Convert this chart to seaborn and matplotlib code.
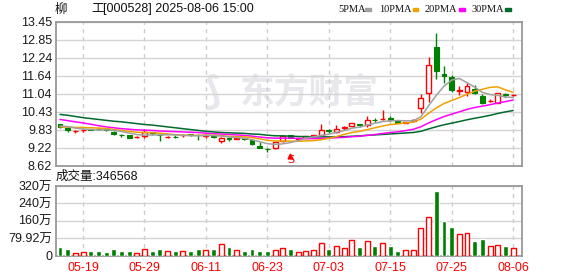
import numpy as np
import pandas as pd
import matplotlib
matplotlib.use("Agg")
import matplotlib.pyplot as plt
import seaborn as sns
from matplotlib.patches import Rectangle

# ---------------- data ----------------
dates = ["05-14", "05-15", "05-16", "05-19", "05-20", "05-21", "05-22", "05-23", "05-26", "05-27",
         "05-28", "05-29", "05-30", "06-03", "06-04", "06-05", "06-06", "06-09", "06-10", "06-11",
         "06-12", "06-13", "06-16", "06-17", "06-18", "06-19", "06-20", "06-23", "06-24", "06-25",
         "06-26", "06-27", "06-30", "07-01", "07-02", "07-03", "07-04", "07-07", "07-08", "07-09",
         "07-10", "07-11", "07-14", "07-15", "07-16", "07-17", "07-18", "07-21", "07-22", "07-23",
         "07-24", "07-25", "07-28", "07-29", "07-30", "07-31", "08-01", "08-04", "08-05", "08-06"]

opens = [10.00, 9.87, 9.77, 9.80, 9.85, 9.85, 9.84, 9.76, 9.65, 9.65,
         9.57, 9.62, 9.74, 9.66, 9.57, 9.59, 9.63, 9.68, 9.65, 9.62,
         9.60, 9.46, 9.55, 9.52, 9.54, 9.47, 9.27, 9.19, 9.20, 9.46,
         9.64, 9.52, 9.55, 9.62, 9.64, 9.81, 9.75, 9.88, 9.94, 10.00,
         9.97, 10.15, 10.18, 10.21, 10.11, 10.05, 10.13, 10.57, 11.05, 12.61,
         11.71, 11.61, 11.14, 11.10, 11.20, 10.95, 10.78, 10.74, 11.02, 10.99]
highs = [10.03, 9.88, 9.83, 9.86, 9.86, 9.87, 9.85, 9.78, 9.69, 9.66,
         9.62, 9.84, 9.76, 9.68, 9.60, 9.64, 9.69, 9.69, 9.67, 9.68,
         9.64, 9.58, 9.57, 9.56, 9.55, 9.48, 9.41, 9.21, 9.41, 9.66,
         9.65, 9.55, 9.62, 9.66, 10.03, 9.85, 9.98, 9.95, 10.06, 10.03,
         10.30, 10.21, 10.48, 10.28, 10.12, 10.10, 10.20, 11.01, 12.28, 13.09,
         11.97, 11.66, 11.29, 11.38, 11.33, 11.02, 10.85, 11.07, 11.05, 11.04]
lows = [9.88, 9.76, 9.73, 9.74, 9.81, 9.82, 9.78, 9.66, 9.57, 9.55,
        9.54, 9.56, 9.64, 9.46, 9.55, 9.53, 9.58, 9.62, 9.49, 9.55,
        9.55, 9.38, 9.45, 9.50, 9.49, 9.31, 9.20, 9.06, 9.18, 9.40,
        9.53, 9.50, 9.53, 9.59, 9.60, 9.71, 9.71, 9.83, 9.90, 9.92,
        9.91, 10.08, 10.16, 10.11, 10.04, 10.04, 10.08, 10.39, 10.76, 11.54,
        11.40, 11.08, 10.99, 10.97, 11.02, 10.70, 10.75, 10.72, 10.93, 10.97]
closes = [9.91, 9.81, 9.78, 9.82, 9.83, 9.84, 9.83, 9.69, 9.64, 9.56,
          9.58, 9.75, 9.71, 9.65, 9.58, 9.58, 9.65, 9.66, 9.63, 9.63,
          9.58, 9.56, 9.50, 9.53, 9.51, 9.34, 9.22, 9.18, 9.40, 9.60,
          9.56, 9.53, 9.60, 9.64, 9.81, 9.79, 9.84, 9.90, 10.04, 9.99,
          10.14, 10.14, 10.19, 10.15, 10.05, 10.09, 10.14, 10.88, 12.00, 11.80,
          11.62, 11.17, 11.16, 11.29, 11.06, 10.73, 10.79, 11.05, 10.98, 11.00]
# volume in 万 (10k shares)
volumes = [37, 32, 12, 17, 23, 19, 14, 28, 23, 19,
           12, 32, 19, 32, 22, 19, 22, 23, 32, 26,
           28, 54, 37, 26, 19, 32, 23, 23, 26, 36,
           28, 17, 22, 26, 59, 28, 45, 36, 73, 37,
           68, 46, 59, 42, 23, 26, 26, 128, 179, 297,
           158, 130, 100, 105, 65, 74, 45, 50, 42, 34.66]

# moving-average values at the start of the window
ma5_head = [9.95, 9.93, 9.88, 9.85]
ma10_head = [9.92, 9.91, 9.90, 9.90, 9.89, 9.88, 9.87, 9.83, 9.80]
ma20_head = [10.17, 10.13, 10.09, 10.05, 10.01, 9.96, 9.92, 9.89, 9.86, 9.84,
             9.82, 9.81, 9.80, 9.78, 9.77, 9.76, 9.75, 9.74, 9.73]
ma30_head = [10.34, 10.31, 10.27, 10.23, 10.20, 10.17, 10.14, 10.11, 10.09, 10.06,
             10.03, 10.00, 9.98, 9.95, 9.92, 9.89, 9.86, 9.83, 9.80, 9.77,
             9.75, 9.73, 9.72, 9.71, 9.70, 9.68, 9.67, 9.64, 9.62]

price_ticks = [8.62, 9.22, 9.83, 10.43, 11.04, 11.64, 12.24, 12.85, 13.45]
price_tick_labels = ["8.62", "9.22", "9.83", "10.43", "11.04", "11.64", "12.24", "12.85", "13.45"]
vol_ticks = [0, 79.92, 160, 240, 320]
vol_tick_labels = ["0", "79.92万", "160万", "240万", "320万"]
date_ticks = ["05-19", "05-29", "06-11", "06-23", "07-03", "07-15", "07-25", "08-06"]
last_volume = "346568"

# ---------------- styling ----------------
sns.set_style("white")
plt.rcParams['font.family'] = ['Liberation Sans', 'Noto Sans CJK SC', 'DejaVu Sans']

RED = "#ff0000"
GREEN = "#008000"
C_MA5 = "#a0a0a0"
C_MA10 = "#f0a000"
C_MA20 = "#ff00ff"
C_MA30 = "#006a2c"
FRAME = "#999999"

df = pd.DataFrame({"date": dates, "open": opens, "high": highs, "low": lows,
                   "close": closes, "volume": volumes})
df["x"] = np.arange(len(df))
for n, head in [(5, ma5_head), (10, ma10_head), (20, ma20_head), (30, ma30_head)]:
    ma = df["close"].rolling(n).mean()
    ma.iloc[:len(head)] = head
    df[f"ma{n}"] = ma

W, H = 578, 276
fig = plt.figure(figsize=(W / 100, H / 100), dpi=100)
L, R = 55.5, 522.0
ax = fig.add_axes([L / W, 1 - 165.5 / H, (R - L) / W, 143.5 / H])
axv = fig.add_axes([L / W, 1 - 255.5 / H, (R - L) / W, 69.5 / H])

xlim = (-0.59, 60.16)
date_idx = [dates.index(d) for d in date_ticks]

for a in (ax, axv):
    a.set_xlim(*xlim)
    for s in a.spines.values():
        s.set_color(FRAME)
        s.set_linewidth(1.3)
    a.set_xticks(date_idx)
    a.xaxis.grid(True, color="#cccccc", linestyle=(0, (3, 3)), linewidth=1)
    a.yaxis.grid(True, color="#d4d4d4", linestyle="-", linewidth=1)
    a.set_axisbelow(True)
    a.tick_params(length=0)

# ---- price panel ----
ax.set_ylim(8.62, 13.45)
ax.set_yticks(price_ticks)
ax.set_yticklabels(price_tick_labels, fontsize=9, color="#1a1a1a")
ax.tick_params(axis="y", pad=2.5)
ax.set_xticklabels([])

# watermark
ax.text(0.545, 0.51, "东方财富", transform=ax.transAxes, ha="center", va="center",
        fontsize=25, fontweight="bold", color="#e8e8ec", family="Noto Sans CJK SC", zorder=0.5)
ax.text(0.335, 0.51, "⟆", transform=ax.transAxes, ha="center", va="center",
        fontsize=28, fontweight="bold", color="#e8e8ec", family="DejaVu Sans", zorder=0.5)

up = df["close"] >= df["open"]
bw = 0.64
blo = np.minimum(df["open"], df["close"])
bhi = np.maximum(df["open"], df["close"])
bh = np.maximum(bhi - blo, 0.012)

d_up = df[up]
d_dn = df[~up]
# up candles: hollow red
ax.vlines(d_up["x"], d_up["low"], blo[up], color=RED, linewidth=1, zorder=2)
ax.vlines(d_up["x"], bhi[up], d_up["high"], color=RED, linewidth=1, zorder=2)
ax.bar(d_up["x"], bh[up], bottom=blo[up], width=bw, facecolor="white",
       edgecolor=RED, linewidth=1, zorder=3)
# down candles: solid green
ax.vlines(d_dn["x"], d_dn["low"], d_dn["high"], color=GREEN, linewidth=1, zorder=2)
ax.bar(d_dn["x"], bh[~up], bottom=blo[~up], width=bw, color=GREEN,
       edgecolor=GREEN, linewidth=0.8, zorder=3)

for col, c in [("ma30", C_MA30), ("ma20", C_MA20), ("ma10", C_MA10), ("ma5", C_MA5)]:
    sns.lineplot(data=df, x="x", y=col, ax=ax, color=c, linewidth=1.1, zorder=4)
ax.set_xlabel("")
ax.set_ylabel("")

# marker under 06-26
sx = dates.index("06-26")
ax.text(sx, 8.63, "S", color=RED, ha="center", va="bottom", fontsize=8,
        family="DejaVu Sans", zorder=5)
ax.plot([sx], [8.93], marker="^", color=RED, markersize=3.5, zorder=5)

# ---- volume panel ----
axv.set_ylim(0, 320)
axv.set_yticks(vol_ticks)
axv.set_yticklabels(vol_tick_labels, fontsize=9, color="#1a1a1a")
axv.tick_params(axis="y", pad=2.5)
axv.set_xticklabels(date_ticks, fontsize=9, color=RED)
axv.tick_params(axis="x", pad=5)
axv.bar(d_up["x"], d_up["volume"], width=bw, facecolor="white", edgecolor=RED,
        linewidth=1, zorder=3)
axv.bar(d_dn["x"], d_dn["volume"], width=bw, color=GREEN, zorder=3)

# ---- header texts ----
fig.text(55 / W, 1 - 9 / H, "柳", fontsize=9, va="center", ha="left",
         family="Noto Sans CJK SC", color="#111111")
fig.text(91 / W, 1 - 9 / H, "工", fontsize=9, va="center", ha="left",
         family="Noto Sans CJK SC", color="#111111")
fig.text(103 / W, 1 - 9 / H, "[000528] 2025-08-06 15:00", fontsize=9, va="center",
         ha="left", color="#111111")

legend_items = [("5PMA", 338, 365, C_MA5), ("10PMA", 379, 412.5, C_MA10),
                ("20PMA", 425, 459, C_MA20), ("30PMA", 471.5, 505, C_MA30)]
for label, tx, sqx, c in legend_items:
    fig.text(tx / W, 1 - 9.5 / H, label, fontsize=7.5, va="center", ha="left",
             family="Liberation Serif", color="#111111")
    fig.add_artist(Rectangle((sqx / W, 1 - 10.5 / H), 5.5 / W, 2.6 / H,
                             transform=fig.transFigure, color=c))

fig.text(56 / W, 1 - 177 / H, "成交量:" + last_volume, fontsize=9, va="center",
         ha="left", color="#111111")

fig.savefig("out.png", dpi=100)
